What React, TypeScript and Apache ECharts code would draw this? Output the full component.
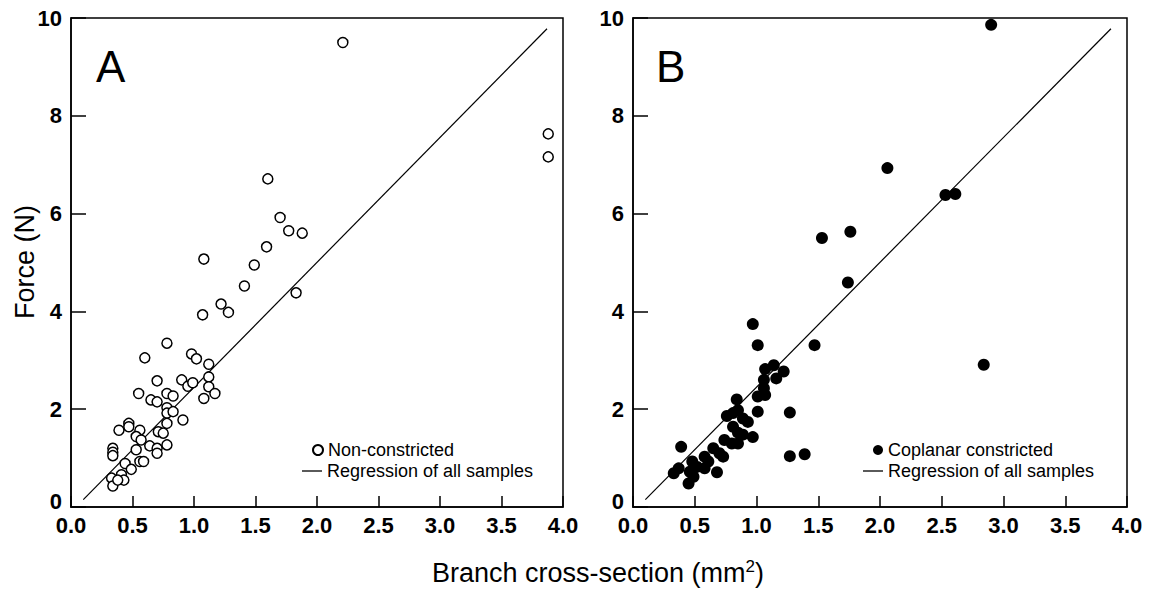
import React, { useEffect, useRef } from "react";
import * as echarts from "echarts";

// Panel A: non-constricted (branch cross-section mm², force N)
const aX = [2.21, 3.88, 3.88, 1.60, 1.70, 1.77, 1.88, 1.59, 1.08, 1.49, 1.41, 1.83, 1.22, 1.28, 1.07, 0.78, 0.60, 0.98, 1.02, 1.12, 0.70, 0.90, 0.95, 0.99, 1.12, 1.12, 1.17, 1.08, 0.55, 0.65, 0.70, 0.78, 0.83, 0.78, 0.78, 0.83, 0.91, 0.78, 0.47, 0.47, 0.39, 0.56, 0.53, 0.71, 0.75, 0.57, 0.64, 0.53, 0.70, 0.70, 0.78, 0.34, 0.34, 0.34, 0.44, 0.56, 0.59, 0.49, 0.33, 0.41, 0.43, 0.34, 0.38];
const aY = [9.50, 7.63, 7.16, 6.71, 5.92, 5.65, 5.60, 5.32, 5.07, 4.95, 4.52, 4.38, 4.15, 3.98, 3.93, 3.35, 3.05, 3.13, 3.03, 2.92, 2.58, 2.60, 2.47, 2.54, 2.66, 2.46, 2.32, 2.22, 2.32, 2.19, 2.15, 2.32, 2.27, 2.03, 1.92, 1.95, 1.78, 1.71, 1.71, 1.64, 1.57, 1.57, 1.44, 1.54, 1.51, 1.37, 1.25, 1.17, 1.20, 1.10, 1.27, 1.20, 1.12, 1.05, 0.89, 0.93, 0.93, 0.77, 0.59, 0.66, 0.55, 0.43, 0.55];

// Panel B: coplanar constricted
const bX = [2.90, 2.06, 2.53, 2.61, 1.76, 1.53, 1.74, 0.97, 1.01, 1.47, 2.84, 1.07, 1.14, 1.22, 1.16, 1.06, 1.06, 1.01, 1.07, 1.01, 1.27, 0.84, 0.76, 0.81, 0.85, 0.89, 0.93, 0.81, 0.85, 0.89, 0.97, 0.74, 0.80, 0.85, 0.65, 0.70, 0.73, 0.58, 0.61, 0.58, 0.68, 0.39, 0.48, 0.52, 0.46, 0.49, 0.45, 0.33, 0.37, 1.27, 1.39];
const bY = [9.86, 6.93, 6.38, 6.40, 5.63, 5.50, 4.59, 3.74, 3.31, 3.31, 2.91, 2.82, 2.90, 2.77, 2.63, 2.60, 2.43, 2.26, 2.29, 1.95, 1.93, 2.20, 1.86, 1.92, 1.98, 1.81, 1.74, 1.64, 1.52, 1.48, 1.43, 1.37, 1.30, 1.30, 1.20, 1.10, 1.03, 1.03, 0.93, 0.79, 0.71, 1.23, 0.93, 0.82, 0.72, 0.62, 0.48, 0.69, 0.79, 1.04, 1.08];

// Regression of all samples (end points)
const regX = [0.1, 3.87];
const regY = [0.15, 9.78];

const xTicks = [0, 0.5, 1, 1.5, 2, 2.5, 3, 3.5, 4];
const yTicks = [0, 2, 4, 6, 8, 10];

const FONT = "'Liberation Sans', Arial, Helvetica, sans-serif";

function pairs(xs: number[], ys: number[]) {
  return xs.map((x, i) => [x, ys[i]]);
}

export default function App() {
  const ref = useRef<HTMLDivElement>(null);
  useEffect(() => {
    if (!ref.current) return;
    const chart = echarts.init(ref.current, undefined, { renderer: "svg" });
    const xAxisBase = (gridIndex: number) => ({
      type: "value",
      gridIndex,
      min: xTicks[0],
      max: xTicks[xTicks.length - 1],
      interval: 0.5,
      axisLine: { show: true, lineStyle: { color: "#000", width: 1.5 } },
      axisTick: { show: true, inside: true, length: 11, lineStyle: { color: "#000", width: 1.5 } },
      axisLabel: {
        color: "#000",
        fontFamily: FONT,
        fontWeight: "bold",
        fontSize: 22,
        margin: 7,
        formatter: (v: number) => v.toFixed(1),
      },
      splitLine: { show: false },
    });
    const yAxisBase = (gridIndex: number) => ({
      type: "value",
      gridIndex,
      min: yTicks[0],
      max: yTicks[yTicks.length - 1],
      interval: 2,
      axisLine: { show: true, lineStyle: { color: "#000", width: 1.5 } },
      axisTick: { show: true, inside: true, length: 15, lineStyle: { color: "#000", width: 1.5 } },
      axisLabel: {
        color: "#000",
        fontFamily: FONT,
        fontWeight: "bold",
        fontSize: 22,
        margin: 9,
        formatter: (v: number) => (v === 0 ? "{z|0}" : String(v)),
        rich: {
          z: { fontFamily: FONT, fontWeight: "bold", fontSize: 22, color: "#000", padding: [0, 0, 12, 0] },
        },
      },
      splitLine: { show: false },
    });
    const legendBase = (left: number, top: number, name: string, w: number, line: boolean) => ({
      left,
      top,
      orient: "vertical",
      itemWidth: w,
      itemHeight: line ? 1.3 : 10,
      data: [line ? { name, icon: "rect", itemStyle: { color: "#000" } } : name],
      selectedMode: false,
      textStyle: { color: "#000", fontFamily: FONT, fontSize: 18 },
      padding: 0,
    });
    const lineSeries = (idx: number) => ({
      type: "line",
      name: "Regression of all samples",
      xAxisIndex: idx,
      yAxisIndex: idx,
      data: pairs(regX, regY),
      symbol: "none",
      lineStyle: { color: "#000", width: 1.2 },
      itemStyle: { color: "#000" },
      z: 1,
    });
    chart.setOption({
      animation: false,
      backgroundColor: "#fff",
      grid: [
        { left: 71, top: 18, width: 492, height: 489, show: true, borderColor: "#000", borderWidth: 1.5, backgroundColor: "transparent" },
        { left: 633, top: 18, width: 494, height: 489, show: true, borderColor: "#000", borderWidth: 1.5, backgroundColor: "transparent" },
      ],
      xAxis: [xAxisBase(0), xAxisBase(1)],
      yAxis: [yAxisBase(0), yAxisBase(1)],
      legend: [
        legendBase(312, 441, "Non-constricted", 10, false),
        legendBase(302, 462, "Regression of all samples", 20, true),
        legendBase(873, 441, "Coplanar constricted", 10, false),
        legendBase(863, 462, "Regression of all samples", 20, true),
      ],
      series: [
        {
          type: "scatter",
          name: "Non-constricted",
          xAxisIndex: 0,
          yAxisIndex: 0,
          data: pairs(aX, aY),
          symbol: "circle",
          symbolSize: 10,
          itemStyle: { color: "#fff", borderColor: "#000", borderWidth: 1.5, opacity: 1 },
          z: 2,
        },
        lineSeries(0),
        {
          type: "scatter",
          name: "Coplanar constricted",
          xAxisIndex: 1,
          yAxisIndex: 1,
          data: pairs(bX, bY),
          symbol: "circle",
          symbolSize: 12,
          itemStyle: { color: "#000", opacity: 1 },
          z: 2,
        },
        lineSeries(1),
      ],
      graphic: [
        { type: "text", left: 96, top: 44, style: { text: "A", fontFamily: FONT, fontSize: 44, fill: "#000" } },
        { type: "text", left: 656, top: 44, style: { text: "B", fontFamily: FONT, fontSize: 44, fill: "#000" } },
        {
          type: "text",
          x: 25,
          y: 262,
          rotation: Math.PI / 2,
          style: { text: "Force (N)", fontFamily: FONT, fontSize: 27, fill: "#000", align: "center", verticalAlign: "middle" },
        },
        {
          type: "text",
          x: 598,
          y: 573,
          style: {
            text: "Branch cross-section (mm{sup|2})",
            fontFamily: FONT,
            fontSize: 27,
            fill: "#000",
            align: "center",
            verticalAlign: "middle",
            rich: { sup: { fontFamily: FONT, fontSize: 17, fill: "#000", padding: [0, 0, 13, 0] } },
          },
        },
      ],
    });
    return () => chart.dispose();
  }, []);
  return (
    <div
      ref={ref}
      style={{ position: "fixed", left: 0, top: 0, width: 1149, height: 591, background: "#fff" }}
    />
  );
}
